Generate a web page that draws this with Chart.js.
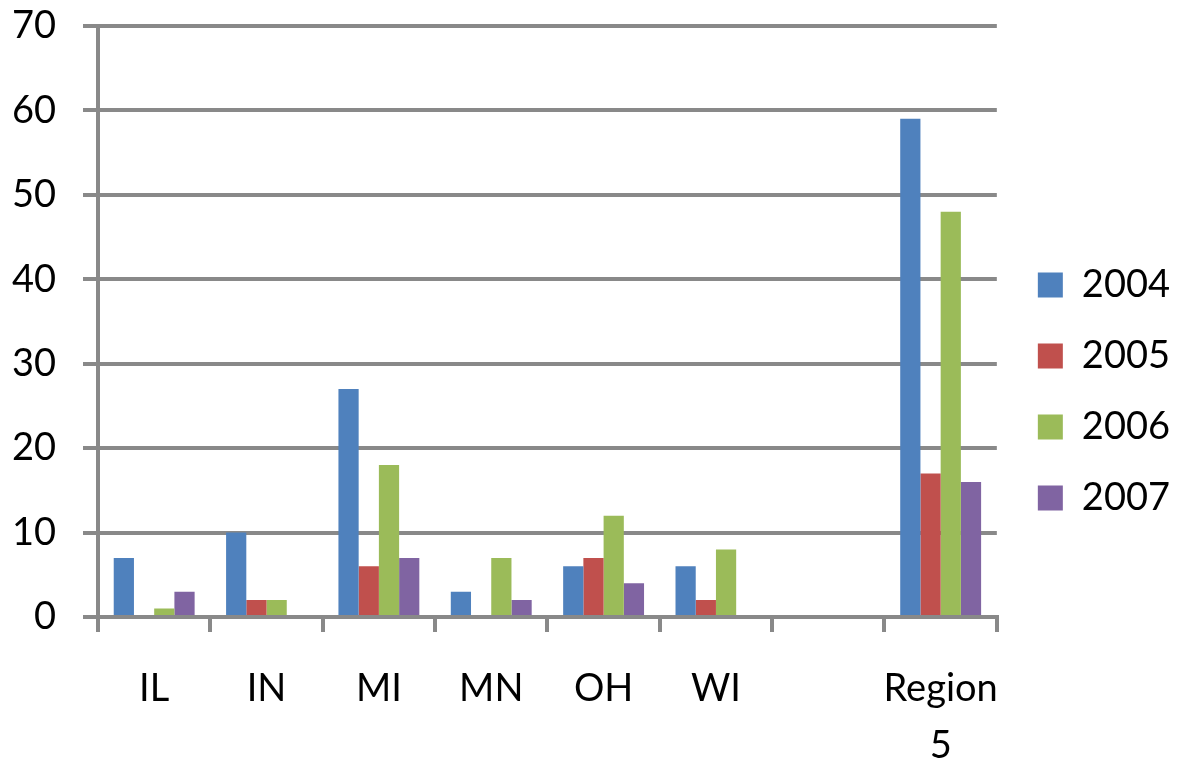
<!DOCTYPE html>
<html>
<head>
<meta charset="utf-8">
<script src="https://cdn.jsdelivr.net/npm/chart.js@4"></script>
<style>
    html, body { margin: 0; padding: 0; background: #fff; }
    .chart-box { width: 1180px; height: 765px; }
</style>
</head>
<body>
<div class="chart-box"><canvas id="barChart"></canvas></div>
<script>
const states = ['IL', 'IN', 'MI', 'MN', 'OH', 'WI', '', ['Region', '5']];
const years = ['2004', '2005', '2006', '2007'];

const v2004 = [7, 10, 27, 3, 6, 6, null, 59];
const v2005 = [0, 2, 6, 0, 7, 2, null, 17];
const v2006 = [1, 2, 18, 7, 12, 8, null, 48];
const v2007 = [3, 0, 7, 2, 4, 0, null, 16];

const yTicks = [0, 10, 20, 30, 40, 50, 60, 70];

const colors = ['#4f81bd', '#c0504d', '#9bbb59', '#8064a2'];
const series = [v2004, v2005, v2006, v2007];

const axisGrey = '#898989';
const font = { family: 'Lato', size: 38 };

// nudge the legend a bit, like the original
const legendShift = {
    id: 'legendShift',
    afterLayout: function (chart) {
        const lg = chart.legend;
        if (lg) {
            lg.left += 8;
            lg.right += 8;
            lg.top -= 4;
            lg.bottom -= 4;
        }
    }
};

const ctx = document.getElementById('barChart');

new Chart(ctx, {
    type: 'bar',
    data: {
        labels: states,
        datasets: series.map(function (vals, i) {
            return {
                label: years[i],
                data: vals,
                backgroundColor: colors[i],
                borderWidth: 0,
                categoryPercentage: 0.72,
                barPercentage: 1.0
            };
        })
    },
    plugins: [legendShift],
    options: {
        responsive: true,
        maintainAspectRatio: false,
        animation: false,
        layout: {
            padding: { left: 12, right: 8, top: 26, bottom: 0 }
        },
        plugins: {
            legend: {
                position: 'right',
                labels: {
                    color: '#000',
                    font: font,
                    boxWidth: 25,
                    boxHeight: 25,
                    padding: 33
                }
            },
            tooltip: { enabled: false }
        },
        scales: {
            x: {
                offset: true,
                afterFit: function (axis) {
                    axis.height = 148;
                },
                grid: {
                    offset: true,
                    drawOnChartArea: false,
                    drawTicks: true,
                    tickLength: 15,
                    color: axisGrey,
                    lineWidth: 4
                },
                border: { color: axisGrey, width: 4 },
                ticks: {
                    color: '#000',
                    font: { family: 'Lato', size: 38, lineHeight: 1.5 },
                    padding: 28,
                    maxRotation: 0,
                    autoSkip: false
                }
            },
            y: {
                min: 0,
                max: 70,
                afterBuildTicks: function (axis) {
                    axis.ticks = yTicks.map(function (v) { return { value: v }; });
                },
                afterFit: function (axis) {
                    axis.width = 86;
                    axis.paddingTop = 0;
                    axis.paddingBottom = 0;
                },
                grid: {
                    color: axisGrey,
                    lineWidth: 4,
                    tickLength: 15
                },
                border: { color: axisGrey, width: 4 },
                ticks: {
                    color: '#000',
                    font: font,
                    padding: 27
                }
            }
        }
    }
});
</script>
</body>
</html>
